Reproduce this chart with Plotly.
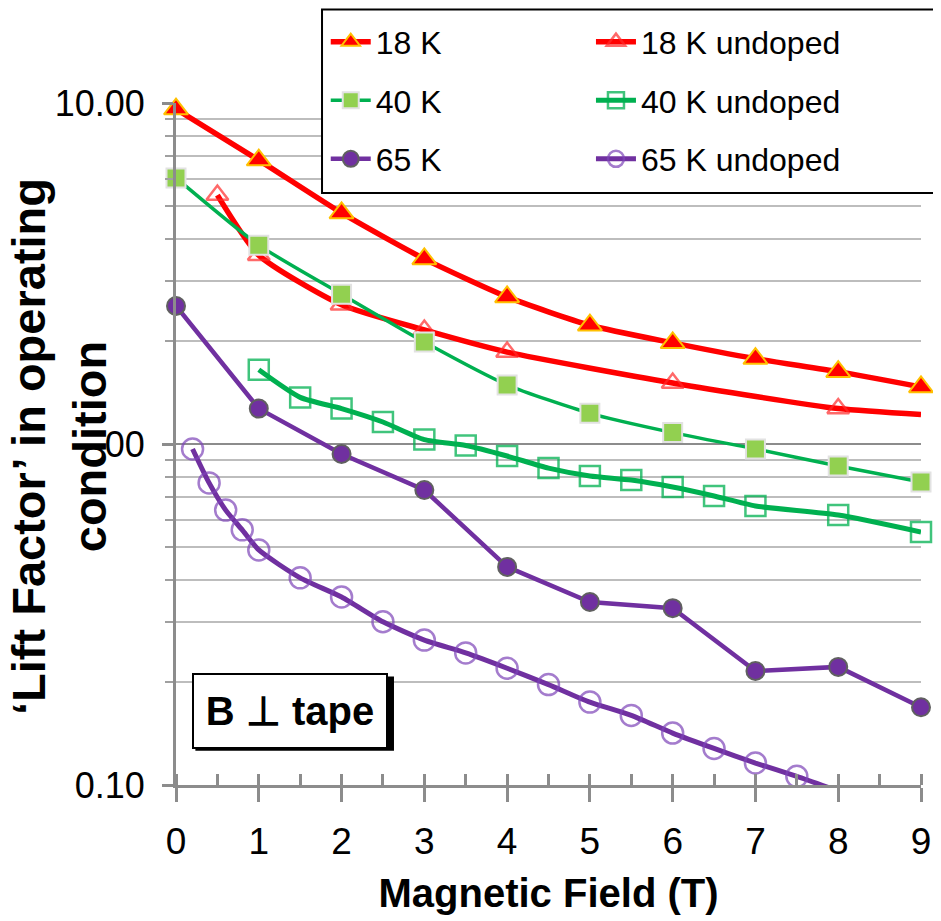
import plotly.graph_objects as go

# ---------------- data ----------------
x_18 = [0, 1, 2, 3, 4, 5, 6, 7, 8, 9]
y_18 = [9.6, 6.8, 4.76, 3.49, 2.70, 2.23, 1.98, 1.78, 1.63, 1.47]

x_18u = [0.5, 1, 2, 3, 4, 6, 8, 9]
y_18u = [5.37, 3.58, 2.56, 2.16, 1.86, 1.51, 1.27, 1.22]

x_40 = [0, 1, 2, 3, 4, 5, 6, 7, 8, 9]
y_40 = [6.03, 3.83, 2.75, 1.99, 1.49, 1.23, 1.08, 0.967, 0.862, 0.774]

x_40u = [1, 1.5, 2, 2.5, 3, 3.5, 4, 4.5, 5, 5.5, 6, 6.5, 7, 8, 9]
y_40u = [1.65, 1.37, 1.27, 1.16, 1.03, 0.99, 0.922, 0.850, 0.806, 0.784,
         0.748, 0.704, 0.658, 0.619, 0.552]

x_65 = [0, 1, 2, 3, 4, 5, 6, 7, 8, 9]
y_65 = [2.54, 1.27, 0.935, 0.733, 0.436, 0.344, 0.330, 0.216, 0.222, 0.169]

x_65u = [0.2, 0.4, 0.6, 0.8, 1, 1.5, 2, 2.5, 3, 3.5, 4, 4.5, 5, 5.5, 6,
         6.5, 7, 7.5, 8]
y_65u = [0.967, 0.769, 0.640, 0.560, 0.489, 0.405, 0.356, 0.301, 0.266,
         0.244, 0.220, 0.197, 0.175, 0.160, 0.142, 0.128, 0.116, 0.106, 0.096]

names = ["18 K", "18 K undoped", "40 K", "40 K undoped", "65 K", "65 K undoped"]
x_ticks = [0, 1, 2, 3, 4, 5, 6, 7, 8, 9]
y_tickvals = [0.1, 1, 10]
y_ticktext = ["0.10", "1.00", "10.00"]
y_minor = [0.2, 0.3, 0.4, 0.5, 0.6, 0.7, 0.8, 0.9, 2, 3, 4, 5, 6, 7, 8, 9]

FONT = "Arial, Liberation Sans, sans-serif"

RED = "#FF0000"
GOLD = "#FFC000"
GREEN = "#00B050"
LGREEN = "#92D050"
PURPLE = "#7030A0"

fig = go.Figure()

# undoped series first (drawn underneath)
fig.add_trace(go.Scatter(
    x=x_18u, y=y_18u, name=names[1], mode="lines+markers",
    line=dict(color=RED, width=5.5, shape="spline", smoothing=0.6),
    marker=dict(symbol="triangle-up-open", color="#FF2A2A", size=[19]*7 + [0],
                line=dict(width=2.5)),
    legend="legend2", legendgroup="b1", cliponaxis=False))
fig.add_trace(go.Scatter(
    x=x_40u, y=y_40u, name=names[3], mode="lines+markers",
    line=dict(color=GREEN, width=5, shape="spline", smoothing=0.6),
    marker=dict(symbol="square-open", color="rgba(0,176,80,0.75)", size=20,
                line=dict(width=2.5)),
    legend="legend2", legendgroup="b2", cliponaxis=False))
fig.add_trace(go.Scatter(
    x=x_65u, y=y_65u, name=names[5], mode="lines+markers",
    line=dict(color=PURPLE, width=5, shape="spline", smoothing=0.6),
    marker=dict(symbol="circle-open", color="#7E45B8", size=[21]*18 + [0],
                line=dict(width=2.5)),
    legend="legend2", legendgroup="b3", cliponaxis=True))

fig.add_trace(go.Scatter(
    x=x_18, y=y_18, name=names[0], mode="lines+markers",
    line=dict(color=RED, width=5.5, shape="spline", smoothing=0.6),
    marker=dict(symbol="triangle-up", color=RED, size=21,
                line=dict(color=GOLD, width=2)),
    legend="legend", legendgroup="a1", cliponaxis=False))
fig.add_trace(go.Scatter(
    x=x_40, y=y_40, name=names[2], mode="lines+markers",
    line=dict(color=GREEN, width=3.5, shape="spline", smoothing=0.6),
    marker=dict(symbol="square", color=LGREEN, size=19,
                line=dict(color="#E2E2E2", width=2)),
    legend="legend", legendgroup="a2", cliponaxis=False))
fig.add_trace(go.Scatter(
    x=x_65, y=y_65, name=names[4], mode="lines+markers",
    line=dict(color=PURPLE, width=4.5),
    marker=dict(symbol="circle", color=PURPLE, size=18,
                line=dict(color="#606060", width=2)),
    legend="legend", legendgroup="a3", cliponaxis=False))

legend_common = dict(
    orientation="v", bgcolor="rgba(0,0,0,0)", borderwidth=0,
    font=dict(family=FONT, size=32, color="black"),
    itemwidth=40, tracegroupgap=14, xanchor="left", yanchor="top",
    traceorder="grouped", itemclick=False,
)

# page body has an 8px margin: figure is sized so the plot area lands at
# x 176..921, y 103..785 of the window
fig.update_layout(
    width=933, height=913,
    margin=dict(l=168, r=20, t=95, b=136, autoexpand=False),
    paper_bgcolor="white", plot_bgcolor="white",
    font=dict(family=FONT, color="black"),
    legend=dict(x=0.201, y=1.13, **legend_common),
    legend2=dict(x=0.557, y=1.13, **legend_common),
    xaxis=dict(
        range=[0, 9], tickvals=x_ticks, showgrid=False, zeroline=False,
        showline=True, linecolor="#8C8C8C", linewidth=3,
        ticks="outside", ticklen=14, tickwidth=3, tickcolor="#8C8C8C",
        ticklabelstandoff=8,
        tickfont=dict(family=FONT, size=37, color="black"),
        minor=dict(dtick=0.5, ticks="inside", ticklen=11, tickwidth=3,
                   tickcolor="#8C8C8C", showgrid=False),
        title=dict(text="<b>Magnetic Field (T)</b>",
                   font=dict(family=FONT, size=40, color="black"), standoff=18),
    ),
    yaxis=dict(
        type="log", range=[-1, 1], tickvals=y_tickvals, ticktext=y_ticktext,
        showgrid=True, gridcolor="#8C8C8C", gridwidth=2, zeroline=False,
        showline=True, linecolor="#8C8C8C", linewidth=3,
        ticks="outside", ticklen=11, tickwidth=3, tickcolor="#8C8C8C",
        ticklabelstandoff=10,
        tickfont=dict(family=FONT, size=36, color="black"),
        minor=dict(tickvals=y_minor, showgrid=True, gridcolor="#BDBDBD",
                   gridwidth=2, ticks="outside", ticklen=8, tickwidth=2,
                   tickcolor="#A0A0A0"),
    ),
    shapes=[
        # legend frame
        dict(type="rect", xref="paper", yref="paper",
             x0=0.196, x1=1.05, y0=0.868, y1=1.137,
             line=dict(color="black", width=2), fillcolor="white",
             layer="above"),
        # drop shadow of the "B ⊥ tape" box
        dict(type="rect", xref="paper", yref="paper",
             x0=0.026, x1=0.2926, y0=0.0503, y1=0.1591,
             line=dict(color="black", width=0), fillcolor="black",
             layer="above"),
        # opaque backing of the axis title where it overlaps the "1." label
        dict(type="rect", xref="paper", yref="paper",
             x0=-0.156, x1=-0.099, y0=0.474, y1=0.528,
             line=dict(width=0), fillcolor="white", layer="above"),
    ],
    annotations=[
        dict(text="<b>‘Lift Factor’ in operating<br>condition</b>",
             xref="paper", yref="paper", x=-0.158, y=0.496,
             xanchor="center", yanchor="middle", textangle=-90,
             showarrow=False, borderpad=0,
             font=dict(family=FONT, size=47, color="black")),
        dict(text="<b>B ⊥ tape</b>", xref="paper", yref="paper",
             x=0.153, y=0.109, xanchor="center", yanchor="middle",
             showarrow=False, bgcolor="white", bordercolor="black",
             borderwidth=2, borderpad=2, width=188, height=68,
             font=dict(family=FONT, size=40, color="black")),
    ],
)

fig.write_html("out.html")
